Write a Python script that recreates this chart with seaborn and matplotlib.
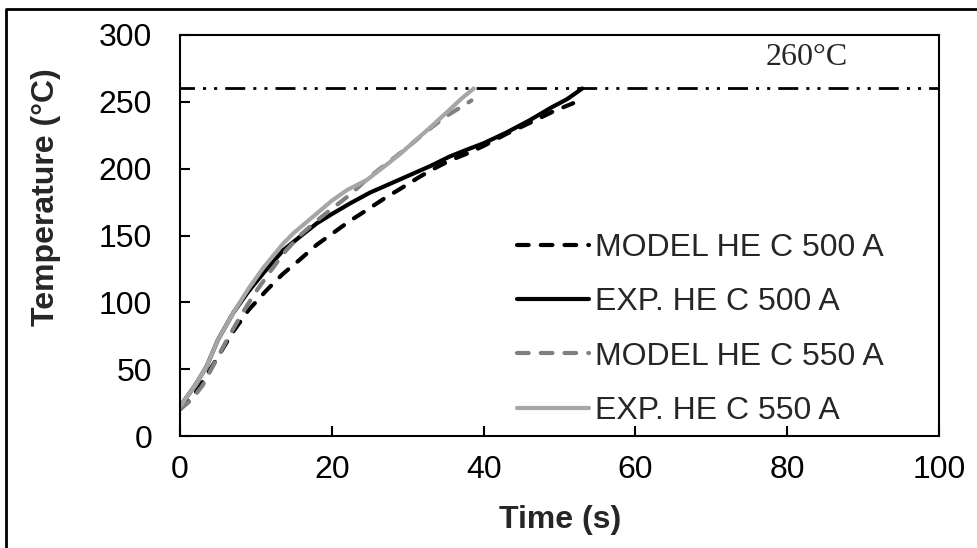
import matplotlib
matplotlib.use("Agg")
import matplotlib.pyplot as plt
from matplotlib.lines import Line2D
import seaborn as sns

# Heating curves: time (s) vs. temperature (°C)
t_model_500 = [0, 1.5, 2.6, 4, 5.5, 7, 9, 11.4, 13.5, 15.8, 18, 20.2, 22.4, 24.6, 27,
               28.9, 31.6, 33.3, 35.5, 37.7, 40, 43, 46, 49.1, 51.8]
T_model_500 = [20, 28, 37, 50, 64, 78, 94, 109, 121, 132, 143, 152, 161, 169, 178,
               184.5, 194, 199.5, 206, 211, 217, 226, 234, 242.6, 249]

t_exp_500 = [0, 2, 3.5, 5, 7, 9, 11, 13.6, 16, 18, 20, 22.4, 25, 27, 29, 31, 33,
             35.5, 37.7, 40, 43, 46, 49, 51, 53]
T_exp_500 = [22, 38, 52, 72, 92, 108, 122, 139, 150, 159, 166, 174, 182, 187, 192,
             197, 202, 209, 214, 219, 227, 236, 246, 252, 260]

t_model_550 = [0, 1.5, 3, 4.5, 6, 8, 10, 12, 14, 16, 18, 20, 22.5, 25, 27.5, 30,
               32.5, 35, 37, 38.4]
T_model_550 = [20, 27, 38, 54, 70, 90, 108, 124, 139, 151, 161, 170, 181, 194, 205,
               216, 228, 239, 246, 251]

t_exp_550 = [0, 2, 3.5, 5, 7, 9, 11, 13.6, 15, 17.5, 20, 22, 24.6, 27, 29, 31.1, 33,
             35.5, 37, 38.7]
T_exp_550 = [22, 38, 52, 72, 92, 110, 126, 144, 152, 164, 176, 184, 191.5, 202, 211,
             221.5, 231, 244, 252, 260]

series_labels = ["MODEL HE C 500 A", "EXP. HE C 500 A",
                 "MODEL HE C 550 A", "EXP. HE C 550 A"]
limit_temp = 260
limit_label = "260°C"
x_ticks = [0, 20, 40, 60, 80, 100]
y_ticks = [0, 50, 100, 150, 200, 250, 300]

sns.set_style("ticks")
plt.rcParams["font.family"] = ["Liberation Sans", "DejaVu Sans"]

W, H = 978, 548
FS = 23
fig = plt.figure(figsize=(W / 100, H / 100), dpi=100)
ax = fig.add_axes([180 / W, 1 - 436 / H, (939 - 180) / W, (436 - 35) / H])

dash = (0, (2.8, 2.9))
styles = [
    dict(color="black", linestyle=dash),
    dict(color="black", linestyle="-"),
    dict(color="#7f7f7f", linestyle=dash),
    dict(color="#a6a6a6", linestyle="-"),
]
data = [(t_model_500, T_model_500), (t_exp_500, T_exp_500),
        (t_model_550, T_model_550), (t_exp_550, T_exp_550)]

for (tx, ty), lab, st in zip(data, series_labels, styles):
    sns.lineplot(x=tx, y=ty, ax=ax, label=lab, sort=False, estimator=None,
                 linewidth=3, dash_capstyle="round", solid_capstyle="round", **st)

# 260 °C reference line (dash-dot-dot)
ax.axhline(limit_temp, color="black", linewidth=2,
           linestyle=(2, (7.2, 2.9, 1.1, 2.9, 1.1, 2.9)), zorder=1)
ax.text(82.6, 283, limit_label, family=["Liberation Serif", "DejaVu Serif"],
        fontsize=FS, ha="center", va="center")

ax.set_xlim(0, 100)
ax.set_ylim(0, 300)
ax.set_xticks(x_ticks)
ax.set_yticks(y_ticks)
ax.tick_params(axis="both", direction="in", length=7, width=1.5,
               labelsize=FS, colors="black")
ax.tick_params(axis="y", pad=20)
ax.tick_params(axis="x", pad=14)
for sp in ax.spines.values():
    sp.set_visible(True)
    sp.set_linewidth(1.5)
    sp.set_color("black")

ax.set_xlabel("Time (s)", fontsize=FS, fontweight="bold")
ax.set_ylabel("Temperature (°C)", fontsize=FS, fontweight="bold")
ax.xaxis.label.set_va("center")
ax.xaxis.set_label_coords((560 - 180) / (939 - 180), (436 - 520) / (436 - 35))
ax.yaxis.label.set_rotation_mode("anchor")
ax.yaxis.label.set_va("center")
ax.yaxis.label.set_ha("center")
ax.yaxis.set_label_coords((46 - 180) / (939 - 180), (436 - 197) / (436 - 35))

leg = ax.legend(loc="upper left", frameon=False, fontsize=FS,
                bbox_to_anchor=((517 - 180) / (939 - 180), (436 - 233) / (436 - 35)),
                borderpad=0, borderaxespad=0, handlelength=2.25,
                handletextpad=0.2, labelspacing=0.76)

# outer frame lines along the left and top edges
fig.add_artist(Line2D([6 / W, 6 / W, 1], [0, 1 - 9 / H, 1 - 9 / H],
                      transform=fig.transFigure, color="black", linewidth=2))

fig.savefig("out.png", dpi=100)
